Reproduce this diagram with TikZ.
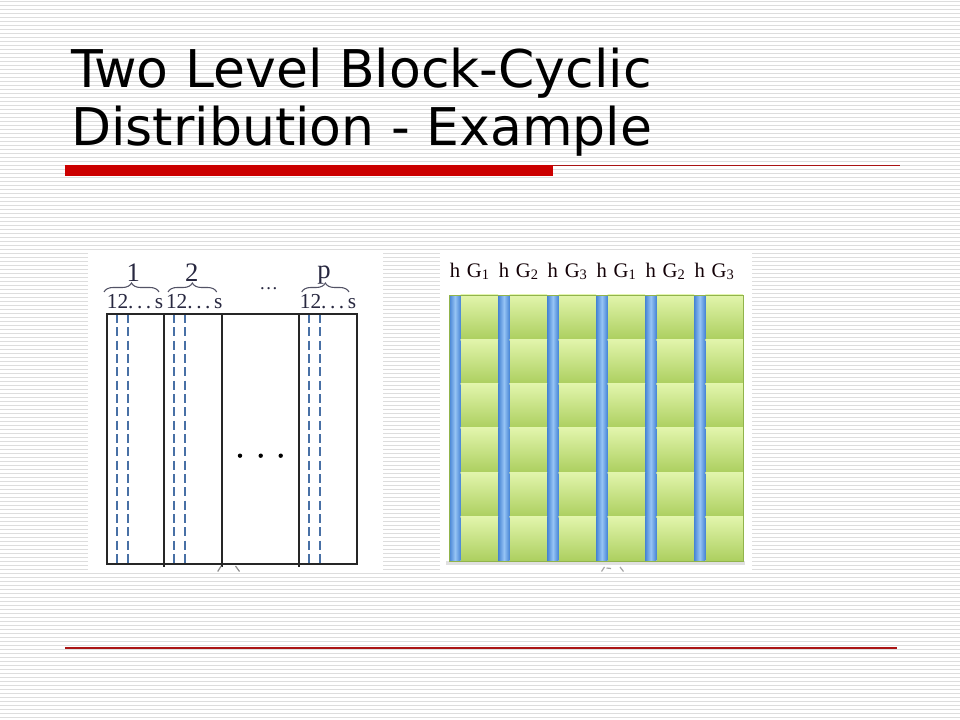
\documentclass[tikz,border=0pt]{standalone}
\usepackage{fontspec}
\setmainfont{Liberation Serif}
\newfontfamily\titlefont{DejaVu Sans}
\usetikzlibrary{decorations.pathreplacing}
\definecolor{stripecol}{RGB}{221,221,221}
\definecolor{barred}{RGB}{204,0,0}
\definecolor{thinred}{RGB}{170,20,20}
\definecolor{dashblue}{RGB}{72,112,165}
\definecolor{labcol}{RGB}{40,40,64}
\definecolor{gtop}{RGB}{226,245,172}
\definecolor{gbot}{RGB}{172,207,95}
\definecolor{gline}{RGB}{145,180,75}
\definecolor{bdark}{RGB}{70,132,212}
\definecolor{blight}{RGB}{150,196,245}
\tikzset{
  stripeline/.style={draw=stripecol,line width=0.8pt},
  titletext/.style={font=\titlefont\fontsize{39}{46}\selectfont,inner sep=0pt,anchor=base west,text=black},
  bigtop/.style={font=\fontsize{20}{24}\selectfont,inner sep=0pt,anchor=base,text=labcol},
  smalltop/.style={font=\fontsize{16}{20}\selectfont,inner sep=0pt,anchor=base,text=labcol},
  gridlab/.style={font=\fontsize{15.5}{18}\selectfont,inner sep=0pt,anchor=base,text=black!90!purple},
  frameline/.style={draw=black!85,line width=1.4pt},
  dashcol/.style={draw=dashblue,line width=1.5pt,dash pattern=on 6.8pt off 3.2pt},
  bracestyle/.style={draw=labcol!80,line width=0.8pt,decorate,decoration={brace,amplitude=6.75pt}},
  remnant/.style={draw=black!45,line width=0.9pt},
}
\begin{document}
\begin{tikzpicture}[x=0.75pt,y=-0.75pt]
\useasboundingbox (0,0) rectangle (960,720);
\fill[white] (0,0) rectangle (960,720);
\foreach \i in {0,...,179}{\draw[stripeline] (0,{4*\i+1.5}) -- (960,{4*\i+1.5});}

% title
\node[titletext] (title1) at (71,88) {Two Level Block-Cyclic};
\node[titletext] (title2) at (71,146) {Distribution - Example};
\fill[barred] (65,165) rectangle (553,176);
\draw[thinred,line width=0.8pt] (553,165.5) -- (900,165.5);
\draw[thinred,line width=1.1pt] (65,648) -- (897,648);

% ---------- left diagram ----------
\fill[white] (88,253) rectangle (383,572);
\foreach \xx in {116.7,127.7,174,185.3,309,320.3}{\draw[dashcol] (\xx,314) -- (\xx,564);}
\draw[frameline] (106.7,314) rectangle (356.7,564);
\foreach \xx in {164.3,221.7,299}{\draw[frameline] (\xx,314) -- (\xx,567);}
\foreach \xx in {240,260.7,280.7}{\fill[black] (\xx,455.7) circle (2.2);}
\node[bigtop] (lab1) at (133.3,281.5) {1};
\node[bigtop] (lab2) at (191.7,281.5) {2};
\node[bigtop] (labp) at (324,278.3) {p};
\draw[bracestyle] (104,292) -- (159,292);
\draw[bracestyle] (168,292) -- (216.7,292);
\draw[bracestyle] (301.7,292) -- (349,292);
\node[smalltop] (s1) at (135,308.3) {12.\,.\,.\,s};
\node[smalltop] (s2) at (194.2,308.3) {12.\,.\,.\,s};
\node[smalltop] (s3) at (328,308.3) {12.\,.\,.\,s};
\node[font=\fontsize{14}{16}\selectfont,inner sep=0pt,anchor=base,text=labcol] (dotsmid) at (268.8,290) {…};
\draw[remnant] (217.7,571.5) -- (221.2,566);
\draw[remnant] (235.5,566) -- (239.5,571.5);

% ---------- right diagram ----------
\fill[white] (440,253) rectangle (752,572);
\fill[black!12] (446,561) rectangle (745,565);
\foreach \r in {0,...,5}{
  \foreach \c in {0,...,5}{
    \pgfmathsetmacro\xb{449.3+48.94*\c}
    \pgfmathsetmacro\yt{295+44.33*\r}
    \shade[top color=gtop,bottom color=gbot] ({\xb+11.4},\yt) rectangle ({\xb+48.94},{\yt+44.33});
    \draw[gline,line width=0.6pt] ({\xb+11.4},{\yt+44.33}) -- ({\xb+48.94},{\yt+44.33});
    \shade[left color=bdark,right color=bdark,middle color=blight] (\xb,{\yt+0.8}) rectangle ({\xb+11.4},{\yt+44.33});
  }
}
\draw[gline,line width=0.6pt] (449.3,295) rectangle (742.9,560.98);
\foreach \c/\g in {0/1,1/2,2/3,3/1,4/2,5/3}{
  \pgfmathsetmacro\xb{449.3+48.94*\c}
  \node[gridlab] (h\c) at ({\xb+5.7},277) {h};
  \node[gridlab] (G\c) at ({\xb+29},277) {G\textsubscript{\g}};
}
\draw[remnant,black!35] (601.5,571.5) -- (604.5,567);
\draw[remnant,black!35] (606.5,568) -- (611,568.5);
\draw[remnant,black!35] (620,567) -- (623.5,571.5);
\end{tikzpicture}
\end{document}
